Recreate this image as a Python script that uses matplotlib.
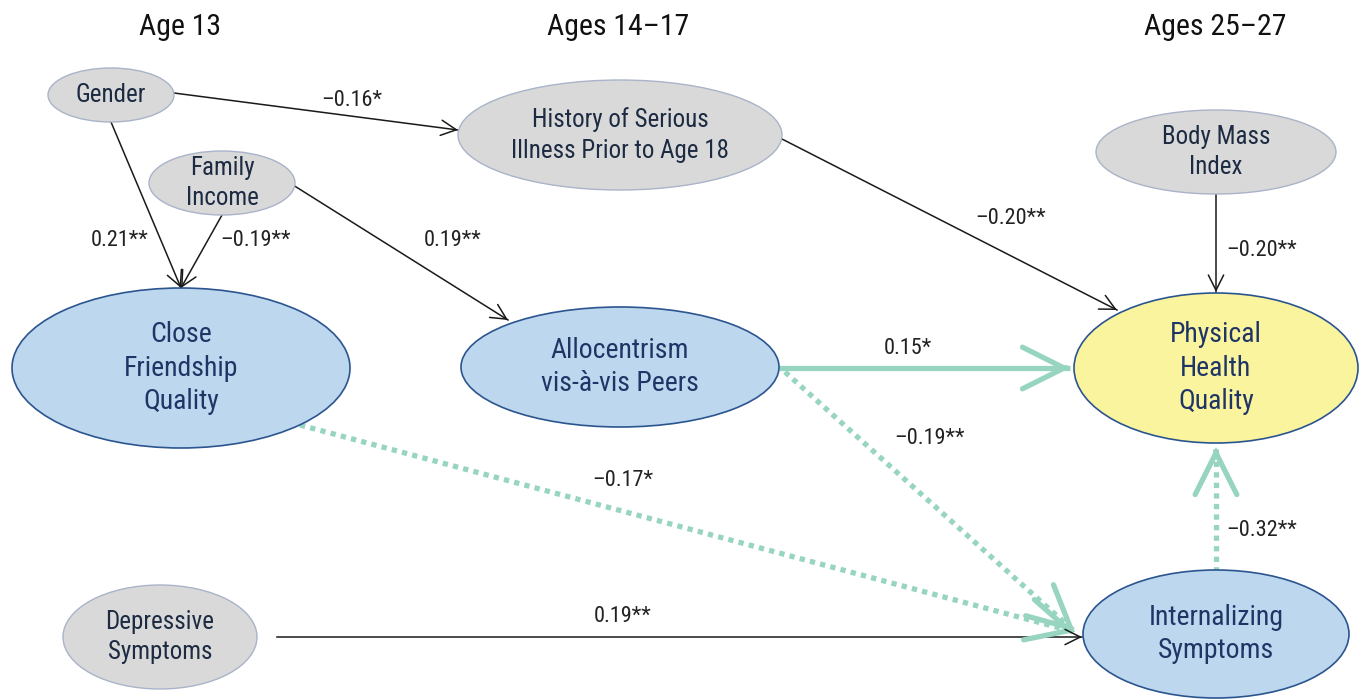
import numpy as np
import matplotlib
matplotlib.use("Agg")
import matplotlib.pyplot as plt
from matplotlib.patches import Ellipse

plt.rcParams['font.family'] = ['Roboto Condensed', 'DejaVu Sans']

# ------------------------------------------------------------------------------------------
# diagram content

headers = ["Age 13", "Ages 14\u201317", "Ages 25\u201327"]
header_x = [180, 618, 1215]

node_names = ["gender", "income", "illness", "bmi", "friend", "allo", "health", "depr", "intern"]
node_labels = ["Gender", "Family\nIncome", "History of Serious\nIllness Prior to Age 18", "Body Mass\nIndex",
               "Close\nFriendship\nQuality", "Allocentrism\nvis-\u00e0-vis Peers", "Physical\nHealth\nQuality",
               "Depressive\nSymptoms", "Internalizing\nSymptoms"]
node_kind = ["gray", "gray", "gray", "gray", "blue", "blue", "yellow", "gray", "blue"]

# path coefficients
edge_from = ["gender", "gender", "income", "income", "illness", "bmi", "allo", "allo", "friend", "depr", "intern"]
edge_to = ["illness", "friend", "friend", "allo", "health", "health", "health", "intern", "intern", "intern", "health"]
edge_coef = ["\u20130.16*", "0.21**", "\u20130.19**", "0.19**", "\u20130.20**", "\u20130.20**",
             "0.15*", "\u20130.19**", "\u20130.17*", "0.19**", "\u20130.32**"]
edge_kind = ["black", "black", "black", "black", "black", "black", "green", "dotted", "dotted", "black", "dotted"]

# ------------------------------------------------------------------------------------------
# layout (pixel coordinates, y down)

node_xy = {"gender": (111, 95), "income": (222, 183), "illness": (620, 135), "bmi": (1216, 152),
           "friend": (181, 368), "allo": (620, 367), "health": (1216, 368), "depr": (160, 637),
           "intern": (1216, 634)}
node_wh = {"gender": (126, 54), "income": (146, 64), "illness": (324, 110), "bmi": (240, 84),
           "friend": (338, 160), "allo": (318, 120), "health": (284, 150), "depr": (194, 104),
           "intern": (266, 128)}

edge_start = [(174, 93), (111, 122), (222, 215), (293, 185), (780, 138), (1216, 194),
              (779, 368), (785, 372), (300, 425), (277, 637), (1216, 572)]
edge_end = [(458, 130), (181, 288), (181, 288), (508, 320), (1117, 310), (1216, 292),
            (1070, 368), (1075, 632), (1075, 632), (1082, 637), (1216, 447)]
label_xy = [(352, 101), (120, 241), (256, 241), (453, 241), (1011, 219), (1262, 250),
            (908, 348), (930, 438), (623, 480), (623, 616), (1262, 531)]

styles = {
    "gray": dict(face="#d9d9d9", edge="#a9b3c9", lw=1.0, txt="#1c2b42", fs=18),
    "blue": dict(face="#bdd7ee", edge="#2b558f", lw=1.2, txt="#1f3566", fs=20),
    "yellow": dict(face="#fbf49f", edge="#2b558f", lw=1.2, txt="#1f3566", fs=20),
}
green = "#98d5c0"

fig = plt.figure(figsize=(13.59, 7.0), dpi=100)
ax = fig.add_axes([0, 0, 1, 1])
ax.set_xlim(0, 1359)
ax.set_ylim(700, 0)
ax.axis("off")

for h, x in zip(headers, header_x):
    ax.text(x, 27, h, ha="center", va="center", fontsize=21.5, color="#111111")


def arrow_head(p0, p1, color, lw, hl, hw):
    p0 = np.array(p0, float)
    p1 = np.array(p1, float)
    d = (p1 - p0) / np.linalg.norm(p1 - p0)
    ax.annotate("", xy=tuple(p1), xytext=tuple(p1 - d * 3),
                arrowprops=dict(arrowstyle=f"->,head_length={hl},head_width={hw}", color=color,
                                lw=lw, shrinkA=0, shrinkB=0, mutation_scale=1,
                                capstyle="round", joinstyle="miter"),
                zorder=4)


for n, (coef, kind, lxy) in enumerate(zip(edge_coef, edge_kind, label_xy)):
    (x0, y0), (x1, y1) = edge_start[n], edge_end[n]
    if kind == "black":
        ax.plot([x0, x1], [y0, y1], color="#1a1a1a", lw=1.1, zorder=1)
        arrow_head((x0, y0), (x1, y1), "#1a1a1a", 1.1, 11, 5.5)
    elif kind == "green":
        ax.plot([x0, x1], [y0, y1], color=green, lw=3.8, zorder=1, solid_capstyle="butt")
        arrow_head((x0, y0), (x1, y1), green, 3.8, 30, 15)
    else:
        ax.plot([x0, x1], [y0, y1], color=green, lw=3.8, zorder=1,
                linestyle=(0, (1, 1)), dash_capstyle="butt")
        arrow_head((x0, y0), (x1, y1), green, 3.8, 30, 15)
    ax.text(lxy[0], lxy[1], coef, ha="center", va="center", fontsize=16, color="#222222", zorder=5)

for name, label, kind in zip(node_names, node_labels, node_kind):
    st = styles[kind]
    (cx, cy), (w, h) = node_xy[name], node_wh[name]
    ax.add_patch(Ellipse((cx, cy), w, h, facecolor=st["face"], edgecolor=st["edge"],
                         lw=st["lw"], zorder=3))
    ax.text(cx, cy, label, ha="center", va="center", fontsize=st["fs"], color=st["txt"],
            linespacing=1.32, zorder=6)

fig.savefig("out.png", dpi=100)
